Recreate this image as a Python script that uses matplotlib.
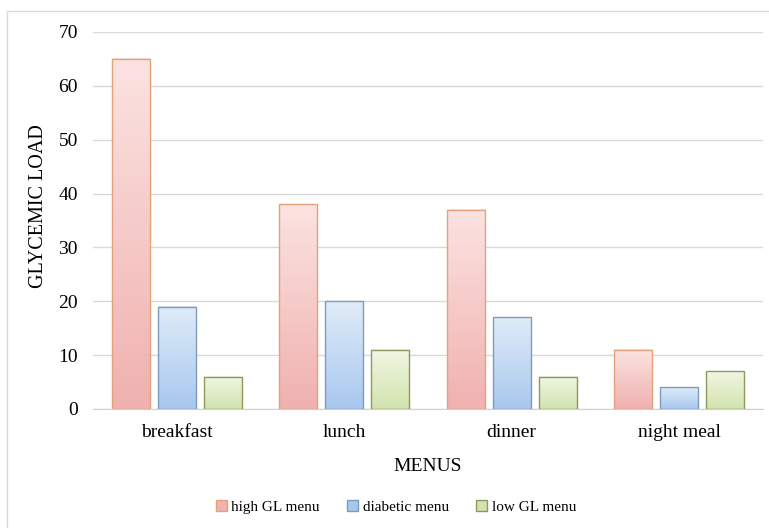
import numpy as np
import matplotlib.pyplot as plt
from matplotlib.colors import LinearSegmentedColormap
from matplotlib.patches import Rectangle, Patch

plt.rcParams['font.family'] = ['Liberation Serif', 'DejaVu Serif']

menus = ['breakfast', 'lunch', 'dinner', 'night meal']
series_names = ['high GL menu', 'diabetic menu', 'low GL menu']
high_gl = [65, 38, 37, 11]
diabetic = [19, 20, 17, 4]
low_gl = [6, 11, 6, 7]

# (top colour, bottom colour, edge colour) for each series
styles = [
    ('#FBE3E1', '#F0B1AF', '#E3A27C'),
    ('#E0ECF8', '#A8C7EE', '#7D9BBA'),
    ('#F1F6E3', '#D2E3AE', '#8C9A5E'),
]

fig = plt.figure(figsize=(7.69, 5.28), dpi=100)
ax = fig.add_axes([0.121, 0.2254, 0.871, 0.714])

# light frame around the chart
fig.patches.append(Rectangle((7 / 769, -0.1), 1.0, (528 - 11) / 528 + 0.1,
                             transform=fig.transFigure, fill=False,
                             edgecolor='#D9D9D9', linewidth=1.0, zorder=0))

x = np.arange(len(menus))
width = 0.227
step = 0.275

for i, (vals, (top, bot, edge)) in enumerate(zip([high_gl, diabetic, low_gl], styles)):
    bars = ax.bar(x + (i - 1) * step, vals, width, facecolor='none',
                  edgecolor=edge, linewidth=1.0, zorder=3)
    cmap = LinearSegmentedColormap.from_list('g%d' % i, [bot, top])
    grad = np.linspace(0, 1, 256).reshape(-1, 1)
    for b in bars:
        x0, y0 = b.get_x(), b.get_y()
        ax.imshow(grad, cmap=cmap, origin='lower', aspect='auto',
                  extent=(x0, x0 + b.get_width(), y0, y0 + b.get_height()),
                  zorder=2)

ax.set_xlim(-0.5, len(menus) - 0.5)
ax.set_ylim(0, 70)
ax.set_yticks(range(0, 71, 10))
ax.set_xticks(x)
ax.set_xticklabels(menus, fontsize=14)
ax.tick_params(axis='y', labelsize=14, length=0, pad=11)
ax.tick_params(axis='x', length=0, pad=11)
ax.grid(axis='y', color='#D9D9D9', linewidth=1.0, zorder=0)
ax.set_axisbelow(True)
for s in ['top', 'right', 'left']:
    ax.spines[s].set_visible(False)
ax.spines['bottom'].set_color('#D0D0D0')

ax.set_ylabel('GLYCEMIC LOAD', fontsize=14.5)
ax.yaxis.set_label_coords(-0.068, 0.538)
ax.set_xlabel('MENUS', fontsize=14, labelpad=12)

handles = [Patch(facecolor=bot, edgecolor=edge, label=n)
           for n, (top, bot, edge) in zip(series_names, styles)]
fig.legend(handles=handles, loc='center', bbox_to_anchor=(0.515, 0.04), ncol=3,
           frameon=False, fontsize=11, handlelength=0.7, handleheight=0.7,
           handletextpad=0.3, columnspacing=1.8)

fig.savefig('out.png', dpi=100)
